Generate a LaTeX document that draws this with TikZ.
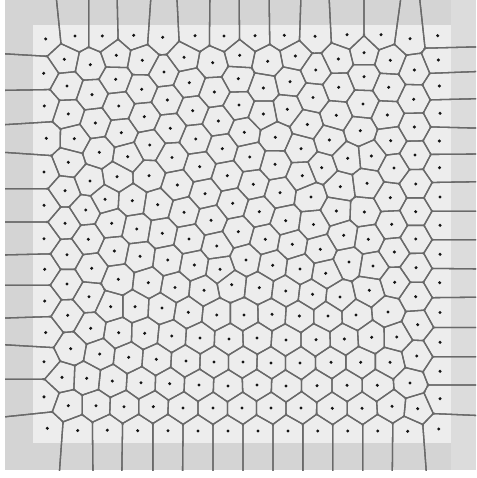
\documentclass[tikz,border=0pt]{standalone}
\definecolor{bgout}{HTML}{D4D4D4}
\definecolor{bgright}{HTML}{DCDCDC}
\definecolor{bgin}{HTML}{EDEDED}
\definecolor{vline}{HTML}{696969}
\definecolor{vdot}{HTML}{151515}
\tikzset{edge/.style={draw=vline,line width=1.3pt},seed/.style={fill=vdot}}
\makeatletter
\newdimen\vdx \newdimen\vdy \newdimen\vR \vR=75pt
\newdimen\vmx \newdimen\vmy \newdimen\vnx \newdimen\vny
\newcount\vok
\def\vpts{45.7/39,75/36,102.3/36,133.7/35.3,162.7/37.3,195/35.7,224/36,255/35.7,284.3/35.3,315/36.3,347/34.7,381/34.7,410/38.7,437.7/35.7,
64.3/59.3,90.3/64.7,116.3/55.3,142.3/60.3,164/72,184/57.3,212.7/62.7,239.7/55.3,267.7/61.3,295.3/56,315.7/70,338.3/59,364/52.7,390.3/60.3,414.3/70,438.3/60,
43.7/73.3,44.3/106,46.3/138.3,44/172,44/205.3,44/238.7,44.7/269.3,44.7/301,45.7/332.5,44/361.7,44/396.8,47.3/428.3,
67/86,92/94.7,115.7/79.3,141.7/89.3,167.3/100,189.3/82.7,214.3/92,238.3/78.7,263.3/88,290/81.7,313/97.5,338.7/87.3,364/76.7,388.7/87.3,413.7/99.3,439.3/86,
68.3/114,95.3/123,118.7/106,144.3/116.7,170.3/128.3,192.7/110.7,218.3/121,239/105,263.3/114,287.3/109.3,307.3/124.5,336.3/115.3,363/104,387.3/115,414.3/127,440/113.3,
74.3/138.7,99.3/152.3,121.3/132.7,127.7/156.7,149.7/145,172/157.5,195.7/139,222.3/148.7,244.3/132.3,275.3/137.3,301/148.7,329.3/140,360.3/130.7,390.7/140.7,415/155,439.3/141,
68.3/162.3,199.7/166.7,249.7/157,275/164.3,321.7/167.7,347.7/158.3,371.3/156,394/168,439.5/167.7,
65/190.7,90/181,117/176.7,149/175.7,177.3/185,227.3/175.7,253.3/184.3,280/192.7,302.3/175.7,340.3/186.7,367/183.3,415.7/184,
85.7/210,105/199.3,132.3/200.7,157.7/204.7,184/212.3,205/193.7,232.7/203.3,259.3/211.7,311/197,336.3/211,364.3/212,390.3/197.7,415.7/211.7,440/197,
65/223.3,111.7/223.3,136.7/229,162.3/233.3,211/220.3,238.3/231.7,285.7/220.7,313.5/224.5,343.7/235.3,391.7/224.3,415.7/239,440/225.3,189/239,88.3/239.3,
67/254.7,114.3/251,140/256.3,167.7/260,216.7/246,265.3/239.3,292.3/244.3,246/260,320.3/249.3,368.3/239.3,349/262,394.3/252,440/254.3,194.3/265,220/269.3,272.7/265.3,300/269,373/266,416/267.7,91.7/268.3,
67/284,118.3/279.3,148.3/282.7,89/296.7,175/287.5,204/290.3,231.7/284.7,259.3/287.7,285.7/291,312.5/294.3,325.7/273.3,369.3/290.3,394.7/282.3,415.7/296.7,439.7/282.7,340/297,
67.7/315.3,110.7/306.7,135/306.7,162/308,188.3/312.3,216.7/315,244/315,272/314.3,299.3/316,328/316,356/315,388/312,440/312.5,417.7/324.7,
90.7/328.3,118.7/332.7,144.7/333.3,171.7/336,200/338,229/339,257/338,286/340,316/339.7,344.3/339,371.7/337.3,396.7/337,440/342.3,
70.7/348.7,99.7/354,128.7/357.3,156.3/359.3,186/361,214/362,243/362,271/363,300/363,331/362.3,360.7/362.3,390/362.3,416.7/356,440/371.3,
62/377.3,86.7/378.3,112.3/381,141/382.7,169.7/383.7,199/385,228/386,257/385,286/386,317/385.7,347/385.3,377.3/385.3,410/383,440/398.7,
68.3/405.7,96/405.7,124/406.7,153.3/406.7,183/408,213/408,242/408,271/408,301/408,332.3/408.3,362/408.3,392/406.3,417.7/408.7,
77.7/430.5,107.3/430.2,137.7/430.7,168/430.7,198/431,228/431,258/431,288/431,317.7/431,347.7/431,377.7/431,407.7/431.3,438.7/429}
\newcommand\vorpair[4]{%
  \vdx=\dimexpr #3pt-#1pt\relax
  \vdy=\dimexpr #4pt-#2pt\relax
  \vok=1
  \ifdim\vdx>\vR \vok=0 \fi
  \ifdim\vdx<-\vR \vok=0 \fi
  \ifdim\vdy>\vR \vok=0 \fi
  \ifdim\vdy<-\vR \vok=0 \fi
  \ifdim\vdx=\z@ \ifdim\vdy=\z@ \vok=0 \fi\fi
  \ifnum\vok=1
    \vmx=\dimexpr #1pt+\vdx/2\relax
    \vmy=\dimexpr #2pt+\vdy/2\relax
    \vnx=\dimexpr #1pt+\vdx*53/100\relax
    \vny=\dimexpr #2pt+\vdy*53/100\relax
    \edef\vAx{\strip@pt\dimexpr\vnx-\vdy*70\relax}%
    \edef\vAy{\strip@pt\dimexpr\vny+\vdx*70\relax}%
    \edef\vBx{\strip@pt\dimexpr\vnx-\vdx*70\relax}%
    \edef\vBy{\strip@pt\dimexpr\vny-\vdy*70\relax}%
    \edef\vCx{\strip@pt\dimexpr\vnx+\vdy*70\relax}%
    \edef\vCy{\strip@pt\dimexpr\vny-\vdx*70\relax}%
    \edef\vLx{\strip@pt\dimexpr\vmx-\vdy*70\relax}%
    \edef\vLy{\strip@pt\dimexpr\vmy+\vdx*70\relax}%
    \edef\vKx{\strip@pt\dimexpr\vmx+\vdy*70\relax}%
    \edef\vKy{\strip@pt\dimexpr\vmy-\vdx*70\relax}%
    \xdef\vclip{\unexpanded\expandafter{\vclip}\noexpand\clip(\vAx,\vAy)--(\vBx,\vBy)--(\vCx,\vCy)--cycle;}%
    \xdef\vseg{\unexpanded\expandafter{\vseg}(\vLx,\vLy)--(\vKx,\vKy)}%
  \fi}
\makeatother
\begin{document}
\begin{tikzpicture}[x=1pt,y=-1pt]
\useasboundingbox (0,0) rectangle (476,478);
\fill[white] (0,0) rectangle (476,478);
\fill[bgout] (5,0) rectangle (476,470);
\fill[bgright] (451,0) rectangle (476,470);
\fill[bgin] (33,25) rectangle (451,443);
\begin{scope}
\clip (5,0) rectangle (476,470);
\foreach \px/\py in \vpts {%
  \gdef\vclip{}\gdef\vseg{}%
  \foreach \qx/\qy in \vpts {\vorpair{\px}{\py}{\qx}{\qy}}%
  \begin{scope}\vclip\draw[edge]\vseg;\end{scope}%
}
\end{scope}
\foreach \px/\py in \vpts {\fill[seed] (\px,\py) circle (1.7);}
\end{tikzpicture}
\end{document}
